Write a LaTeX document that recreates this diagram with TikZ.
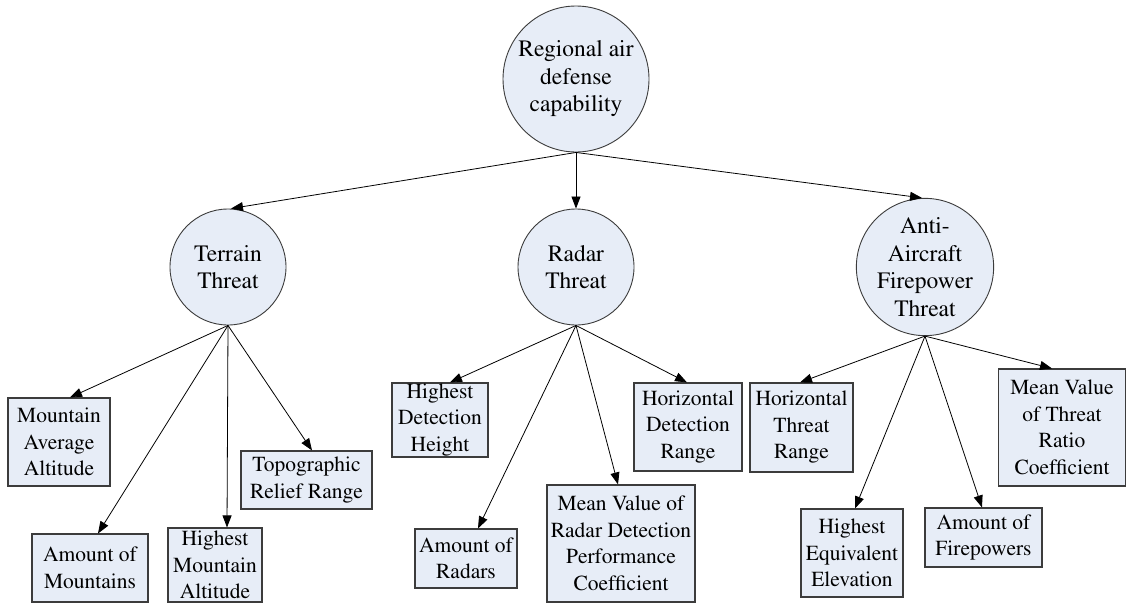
\documentclass[tikz,border=0pt]{standalone}
\usepackage[T1]{fontenc}
\usepackage{times}
\usetikzlibrary{arrows.meta}
\definecolor{nodefill}{RGB}{231,237,247}
\definecolor{edgegray}{RGB}{60,60,60}
\begin{document}
\begin{tikzpicture}[x=1pt,y=-1pt,
  circ/.style={circle, draw=edgegray, fill=nodefill, line width=0.9pt, inner sep=0pt, align=center, font=\rmfamily\fontsize{23.5}{27.5}\selectfont},
  box/.style={rectangle, draw=edgegray, fill=nodefill, line width=1.1pt, inner sep=0pt, align=center, font=\rmfamily\fontsize{21.5}{26.5}\selectfont},
  arr/.style={-{Triangle[length=12pt,width=9pt]}, line width=0.8pt, black}]
\fill[white] (0,0) rectangle (1127,603);
\useasboundingbox (0,0) rectangle (1127,603);
% circles
\node[circ, minimum size=146pt] (root) at (576,79) {Regional air\\defense\\capability};
\node[circ, minimum size=116pt] (ter) at (228,267) {Terrain\\Threat};
\node[circ, minimum size=116pt] (rad) at (576,267) {Radar\\Threat};
\node[circ, minimum size=116pt] (anti) at (925,267) {Anti-\\Aircraft\\Firepower\\Threat};
% terrain boxes
\node[box, minimum width=102pt, minimum height=88pt] (b1) at (59,442) {Mountain\\Average\\Altitude};
\node[box, minimum width=116pt, minimum height=68pt] (b2) at (90,568) {Amount of\\Mountains};
\node[box, minimum width=94pt, minimum height=74pt] (b3) at (215,565) {Highest\\Mountain\\Altitude};
\node[box, minimum width=131pt, minimum height=58pt] (b4) at (306.5,480) {Topographic\\Relief Range};
% radar boxes
\node[box, minimum width=96pt, minimum height=74pt] (r1) at (440,420) {Highest\\Detection\\Height};
\node[box, minimum width=102pt, minimum height=59pt] (r2) at (466,558.5) {Amount of\\Radars};
\node[box, minimum width=148pt, minimum height=117pt] (r3) at (621,543.5) {Mean Value of\\Radar Detection\\Performance\\Coefficient};
\node[box, minimum width=108pt, minimum height=88pt] (r4) at (688,427) {Horizontal\\Detection\\Range};
% anti-aircraft boxes
\node[box, minimum width=103pt, minimum height=89pt] (a1) at (801.5,427.5) {Horizontal\\Threat\\Range};
\node[box, minimum width=102pt, minimum height=88pt] (a2) at (852,553) {Highest\\Equivalent\\Elevation};
\node[box, minimum width=117pt, minimum height=59pt] (a3) at (983.5,537.5) {Amount of\\Firepowers};
\node[box, minimum width=127pt, minimum height=117pt] (a4) at (1062,427.5) {Mean Value\\of Threat\\Ratio\\Coefficient};
% arrows
\draw[arr] (root.south) -- ([xshift=3pt]ter.north);
\draw[arr] (root.south) -- (rad.north);
\draw[arr] (root.south) -- ([xshift=-3pt]anti.north);
\draw[arr] (ter.south) -- ([xshift=11pt]b1.north);
\draw[arr] (ter.south) -- ([xshift=8pt]b2.north);
\draw[arr] (ter.south) -- ([xshift=12pt]b3.north);
\draw[arr] (ter.south) -- ([xshift=5.5pt]b4.north);
\draw[arr] (rad.south) -- ([xshift=10pt]r1.north);
\draw[arr] (rad.south) -- ([xshift=12pt]r2.north);
\draw[arr] (rad.south) -- ([xshift=-3pt]r3.north);
\draw[arr] (rad.south) -- ([xshift=-1pt]r4.north);
\draw[arr] (anti.south) -- ([xshift=-1.5pt]a1.north);
\draw[arr] (anti.south) -- ([xshift=3pt]a2.north);
\draw[arr] (anti.south) -- ([xshift=-1.5pt]a3.north);
\draw[arr] (anti.south) -- ([xshift=-10pt]a4.north);
\end{tikzpicture}
\end{document}
